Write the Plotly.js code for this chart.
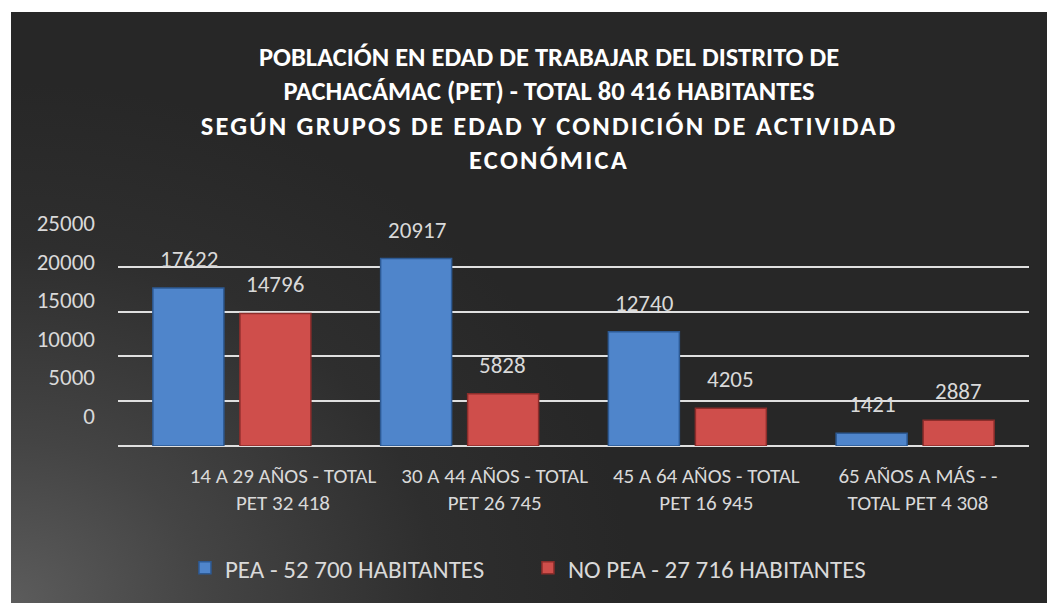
<!DOCTYPE html>
<html>
<head>
<meta charset="utf-8">
<script src="https://cdn.plot.ly/plotly-3.0.1.min.js"></script>
<style>
  html, body { margin: 0; padding: 0; background: #ffffff; }
  #bg { position: absolute; left: 11px; top: 12px; width: 1036px; height: 591px;
        background: radial-gradient(ellipse 75% 110% at 0% 100%, #5c5c5c 0%, #444444 25%, #2e2e2e 55%, #272727 80%); }
  #chart { position: absolute; left: 0; top: 0; width: 1047px; height: 603px; }
</style>
</head>
<body>
<div id="bg"></div>
<div id="chart"></div>
<script>
const categories = [
  '14 A 29 AÑOS - TOTAL<br>PET 32 418',
  '30 A 44 AÑOS - TOTAL<br>PET 26 745',
  '45 A 64 AÑOS - TOTAL<br>PET 16 945',
  '65 AÑOS A MÁS - -<br>TOTAL PET 4 308'
];
const peaValues = [17622, 20917, 12740, 1421];
const noPeaValues = [14796, 5828, 4205, 2887];
const seriesNames = ['PEA - 52 700 HABITANTES', 'NO PEA - 27 716 HABITANTES'];
const yTickValues = [0, 5000, 10000, 15000, 20000, 25000];
const yTickLabels = ['0', '5000', '10000', '15000', '20000', '25000'];
const titleLines = [
  'POBLACIÓN EN EDAD DE TRABAJAR DEL DISTRITO DE',
  'PACHACÁMAC (PET) - TOTAL 80 416 HABITANTES',
  'SEGÚN GRUPOS DE EDAD Y CONDICIÓN DE ACTIVIDAD',
  'ECONÓMICA'
];

const FONT = 'Carlito, Calibri, Lato, "Open Sans", sans-serif';
const TXT = '#d9d9d9';

const traces = [
  { type: 'bar', name: seriesNames[0], x: categories, y: peaValues,
    marker: { color: '#4f85cb', line: { color: '#2d5a94', width: 1.5 } },
    hoverinfo: 'x+y' },
  { type: 'bar', name: seriesNames[1], x: categories, y: noPeaValues,
    marker: { color: '#cf4e4b', line: { color: '#8c2d2b', width: 1.5 } },
    hoverinfo: 'x+y' },
  { type: 'scatter', x: categories, y: [0, 0, 0, 0], xaxis: 'x2', yaxis: 'y2', mode: 'markers',
    marker: { opacity: 0 }, showlegend: false, hoverinfo: 'skip' }
];

const annotations = [];
peaValues.forEach((v, i) => annotations.push({ x: categories[i], y: v, xref: 'x', yref: 'y',
  text: String(v), showarrow: false, xshift: -43, yshift: 29, font: { family: FONT, size: 23, color: TXT } }));
noPeaValues.forEach((v, i) => annotations.push({ x: categories[i], y: v, xref: 'x', yref: 'y',
  text: String(v), showarrow: false, xshift: 43, yshift: 29, font: { family: FONT, size: 23, color: TXT } }));

const titleText = '<b>' + titleLines[0] + '<br>' + titleLines[1] + '<br>' +
  '<span style="letter-spacing:2.2px">' + titleLines[2] + '</span><br>' +
  '<span style="letter-spacing:2.2px">' + titleLines[3] + '</span></b>';

const layout = {
  width: 1047, height: 603,
  margin: { l: 118, r: 18, t: 222, b: 157 },
  paper_bgcolor: 'rgba(0,0,0,0)', plot_bgcolor: 'rgba(0,0,0,0)',
  font: { family: FONT, color: TXT },
  title: {
    text: titleText,
    font: { family: FONT, size: 26.5, color: '#ffffff' },
    x: 549 / 1047, xanchor: 'center', xref: 'container',
    y: 1 - 66 / 603, yanchor: 'top', yref: 'container'
  },
  barmode: 'group', bargap: 0.236, bargroupgap: 0.184,
  showlegend: true,
  legend: { orientation: 'h', x: 0.0735, xanchor: 'left', y: -0.545, yanchor: 'middle',
    itemwidth: 30, entrywidth: 298, font: { family: FONT, size: 25, color: TXT }, bgcolor: 'rgba(0,0,0,0)' },
  xaxis: { type: 'category', showgrid: false, showline: false, ticks: '', showticklabels: false },
  xaxis2: { type: 'category', overlaying: 'x', side: 'bottom', range: [-0.7795, 3.5245],
    showgrid: false, showline: false, zeroline: false, ticks: '',
    tickfont: { family: FONT, size: 21, color: TXT }, ticklabelstandoff: 15 },
  yaxis: { range: [0, 25000], tickvals: yTickValues, showticklabels: false,
    showgrid: true, gridcolor: '#e0e0e0', gridwidth: 2,
    zeroline: true, zerolinecolor: '#e0e0e0', zerolinewidth: 2, showline: false, ticks: '' },
  yaxis2: { overlaying: 'y', side: 'left', range: [-3886, 25130], tickvals: yTickValues, ticktext: yTickLabels,
    showgrid: false, zeroline: false, showline: false, ticks: '',
    tickfont: { family: FONT, size: 23, color: TXT }, ticklabelstandoff: 22 },
  annotations: annotations
};

Plotly.newPlot('chart', traces, layout, { displayModeBar: false });
</script>
</body>
</html>
